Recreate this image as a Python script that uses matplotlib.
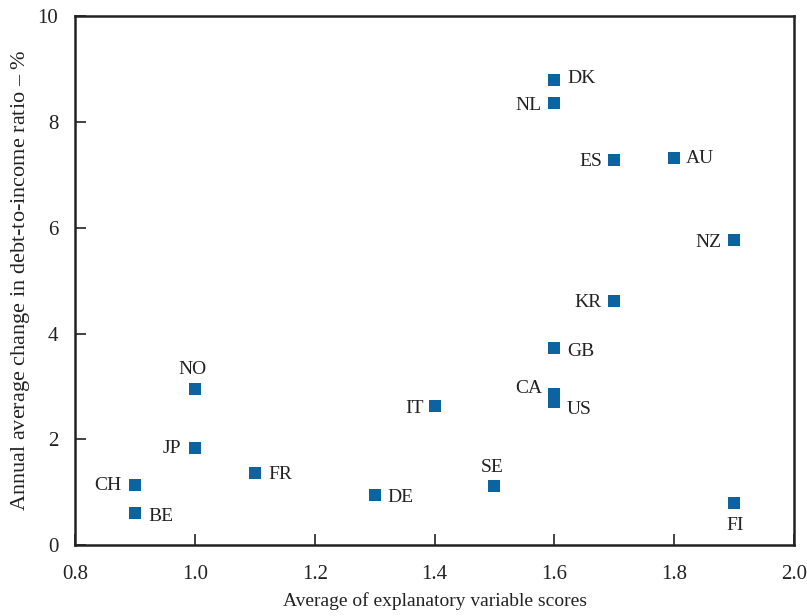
import matplotlib.pyplot as plt

plt.rcParams['font.family'] = ['Liberation Serif', 'DejaVu Serif']
plt.rcParams['mathtext.fontset'] = 'custom'
plt.rcParams['mathtext.it'] = 'Liberation Serif:italic'
plt.rcParams['mathtext.rm'] = 'Liberation Serif'

countries = ['DK', 'NL', 'ES', 'AU', 'NZ', 'KR', 'GB', 'CA', 'US',
             'IT', 'NO', 'JP', 'FR', 'CH', 'BE', 'DE', 'SE', 'FI']
scores = [1.6, 1.6, 1.7, 1.8, 1.9, 1.7, 1.6, 1.6, 1.6,
          1.4, 1.0, 1.0, 1.1, 0.9, 0.9, 1.3, 1.5, 1.9]
debt_change = [8.79, 8.36, 7.28, 7.31, 5.77, 4.61, 3.72, 2.85, 2.70,
               2.63, 2.95, 1.83, 1.36, 1.13, 0.60, 0.95, 1.12, 0.79]

# label placement: (dx, dy) in points, horizontal alignment
label_pos = {
    'DK': ((9, 1), 'left'), 'NL': ((-9, -2), 'right'),
    'ES': ((-9, -1), 'right'), 'AU': ((8, 0), 'left'),
    'NZ': ((-9, -2), 'right'), 'KR': ((-9, -1), 'right'),
    'GB': ((9, -2), 'left'), 'CA': ((-9, 4), 'right'),
    'US': ((9, -5), 'left'), 'IT': ((-8, -2), 'right'),
    'NO': ((-2, 14), 'center'), 'JP': ((-10, 0), 'right'),
    'FR': ((10, -1), 'left'), 'CH': ((-10, 0), 'right'),
    'BE': ((10, -2), 'left'), 'DE': ((9, -2), 'left'),
    'SE': ((-2, 13), 'center'), 'FI': ((1, -16), 'center'),
}

fig, ax = plt.subplots(figsize=(8.07, 6.16), dpi=100)
fig.subplots_adjust(left=0.093, right=0.984, top=0.974, bottom=0.115)

ax.scatter(scores, debt_change, marker='s', s=80, color='#0b64a0',
           linewidths=0, zorder=3)

for c, x, y in zip(countries, scores, debt_change):
    (dx, dy), ha = label_pos[c]
    ax.annotate(c, (x, y), xytext=(dx, dy), textcoords='offset points',
                ha=ha, va='center', fontsize=14, color='#222222')

ax.set_xlim(0.8, 2.0)
ax.set_ylim(0, 10)
ax.set_xticks([0.8, 1.0, 1.2, 1.4, 1.6, 1.8, 2.0])
ax.set_xticklabels(['0.8', '1.0', '1.2', '1.4', '1.6', '1.8', '2.0'])
ax.set_yticks([0, 2, 4, 6, 8, 10])
ax.tick_params(direction='in', length=8, width=1.2, labelsize=15,
               colors='#222222')
ax.tick_params(axis='y', pad=12)
ax.tick_params(axis='x', pad=14)
for s in ax.spines.values():
    s.set_linewidth(1.8)
    s.set_color('#222222')

ax.set_xlabel('Average of explanatory variable scores', fontsize=14,
              color='#222222', labelpad=6)
ax.set_ylabel('Annual average change in debt-to-income ratio – $\\mathit{\\%}$',
              fontsize=16, color='#222222', labelpad=4)

fig.savefig('out.png', dpi=100)
